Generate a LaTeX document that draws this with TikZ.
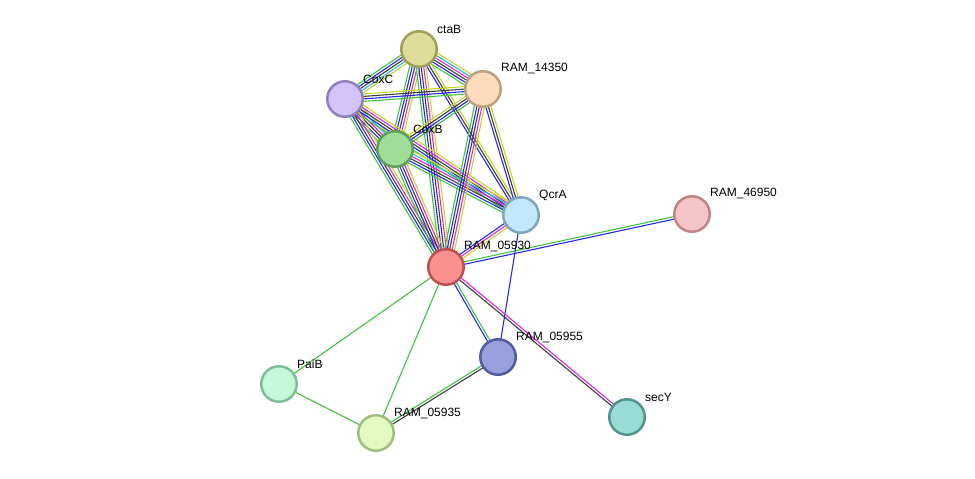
\documentclass[tikz,border=0pt]{standalone}
\usepackage{fontspec}
\setmainfont{Liberation Sans}
\usetikzlibrary{calc,backgrounds}

% evidence colours
\definecolor{evgreen}{RGB}{62,196,62}
\definecolor{evblue}{RGB}{40,40,238}
\definecolor{evblack}{RGB}{62,62,62}
\definecolor{evpink}{RGB}{222,40,222}
\definecolor{evcyan}{RGB}{40,184,222}
\definecolor{evyellow}{RGB}{196,214,40}

% one link = several parallel lines, one per colour
\newcommand{\linkset}[3]{%
  \foreach \lc [count=\li] in {#3} {\xdef\lnum{\li}}%
  \foreach \lc [count=\li] in {#3} {%
    \pgfmathsetmacro{\loff}{(\li-(\lnum+1)/2)*2.5}%
    \draw[link, \lc] ($(#1)!\loff pt!90:(#2)$) -- ($(#2)!\loff pt!-90:(#1)$);
  }%
}

\begin{document}
\begin{tikzpicture}[x=1pt,y=-1pt,
  prot/.style={circle, minimum size=35.5pt, inner sep=0pt, line width=2.5pt},
  lbl/.style={anchor=west, inner sep=0pt, font=\fontsize{12}{14}\selectfont},
  link/.style={line width=1.1pt}]
\useasboundingbox (0,0) rectangle (975,479);

% proteins
\node[prot, fill={rgb,255:red,222;green,222;blue,154}, draw={rgb,255:red,160;green,160;blue,90}] (ctab) at (419,49) {};
\node[prot, fill={rgb,255:red,253;green,220;blue,190}, draw={rgb,255:red,190;green,160;blue,128}] (ram14350) at (483,89) {};
\node[prot, fill={rgb,255:red,212;green,194;blue,250}, draw={rgb,255:red,144;green,128;blue,192}] (coxc) at (345,99) {};
\node[prot, fill={rgb,255:red,158;green,222;blue,152}, draw={rgb,255:red,96;green,158;blue,96}] (coxb) at (395,149) {};
\node[prot, fill={rgb,255:red,196;green,232;blue,251}, draw={rgb,255:red,128;green,166;blue,190}] (qcra) at (521,215) {};
\node[prot, fill={rgb,255:red,246;green,198;blue,198}, draw={rgb,255:red,190;green,134;blue,134}] (ram46950) at (692,214) {};
\node[prot, fill={rgb,255:red,250;green,144;blue,144}, draw={rgb,255:red,190;green,80;blue,80}] (ram05930) at (446,267) {};
\node[prot, fill={rgb,255:red,152;green,160;blue,220}, draw={rgb,255:red,80;green,92;blue,158}] (ram05955) at (498,357) {};
\node[prot, fill={rgb,255:red,194;green,250;blue,216}, draw={rgb,255:red,128;green,190;blue,152}] (paib) at (279,384) {};
\node[prot, fill={rgb,255:red,226;green,252;blue,192}, draw={rgb,255:red,160;green,190;blue,128}] (ram05935) at (376,433) {};
\node[prot, fill={rgb,255:red,152;green,220;blue,212}, draw={rgb,255:red,80;green,150;blue,142}] (secy) at (627,417) {};

% links
\begin{pgfonlayer}{background}
\linkset{ctab}{ram14350}{evgreen,evblue,evblack,evpink,evcyan,evyellow}
\linkset{ctab}{coxc}{evgreen,evblue,evblack,evcyan,evyellow}
\linkset{ctab}{coxb}{evgreen,evblue,evblack,evpink,evyellow}
\linkset{ctab}{qcra}{evblue,evblack,evyellow}
\linkset{ctab}{ram05930}{evgreen,evblue,evblack,evpink,evyellow}
\linkset{coxc}{ram14350}{evgreen,evblue,evblack,evyellow}
\linkset{coxc}{coxb}{evgreen,evblue,evblack,evpink,evcyan,evyellow}
\linkset{coxc}{qcra}{evgreen,evblue,evblack,evpink,evyellow}
\linkset{coxc}{ram05930}{evgreen,evblue,evblack,evpink,evyellow}
\linkset{coxb}{ram14350}{evgreen,evblue,evblack,evyellow}
\linkset{coxb}{qcra}{evgreen,evblue,evblack,evpink,evcyan,evyellow}
\linkset{coxb}{ram05930}{evgreen,evblue,evblack,evpink,evyellow}
\linkset{ram14350}{qcra}{evblue,evblack,evyellow}
\linkset{ram14350}{ram05930}{evgreen,evblue,evblack,evpink,evyellow}
\linkset{qcra}{ram05930}{evblue,evpink,evyellow}
\linkset{ram05930}{ram46950}{evblue,evgreen}
\linkset{qcra}{ram05955}{evblue}
\linkset{ram05930}{ram05955}{evblue,evgreen}
\linkset{ram05930}{secy}{evblack,evpink}
\linkset{ram05930}{paib}{evgreen}
\linkset{ram05930}{ram05935}{evgreen}
\linkset{paib}{ram05935}{evgreen}
\linkset{ram05955}{ram05935}{evgreen,evblack}
\end{pgfonlayer}

% names
\node[lbl] at ([shift={(18,-20)}]ctab.center) {ctaB};
\node[lbl] at ([shift={(18,-20)}]ram14350.center) {RAM\_14350};
\node[lbl] at ([shift={(18,-20)}]coxc.center) {CoxC};
\node[lbl] at ([shift={(18,-20)}]coxb.center) {CoxB};
\node[lbl] at ([shift={(18,-20)}]qcra.center) {QcrA};
\node[lbl] at ([shift={(18,-20)}]ram46950.center) {RAM\_46950};
\node[lbl] at ([shift={(18,-20)}]ram05930.center) {RAM\_05930};
\node[lbl] at ([shift={(18,-20)}]ram05955.center) {RAM\_05955};
\node[lbl] at ([shift={(18,-20)}]paib.center) {PaiB};
\node[lbl] at ([shift={(18,-20)}]ram05935.center) {RAM\_05935};
\node[lbl] at ([shift={(18,-20)}]secy.center) {secY};
\end{tikzpicture}
\end{document}
